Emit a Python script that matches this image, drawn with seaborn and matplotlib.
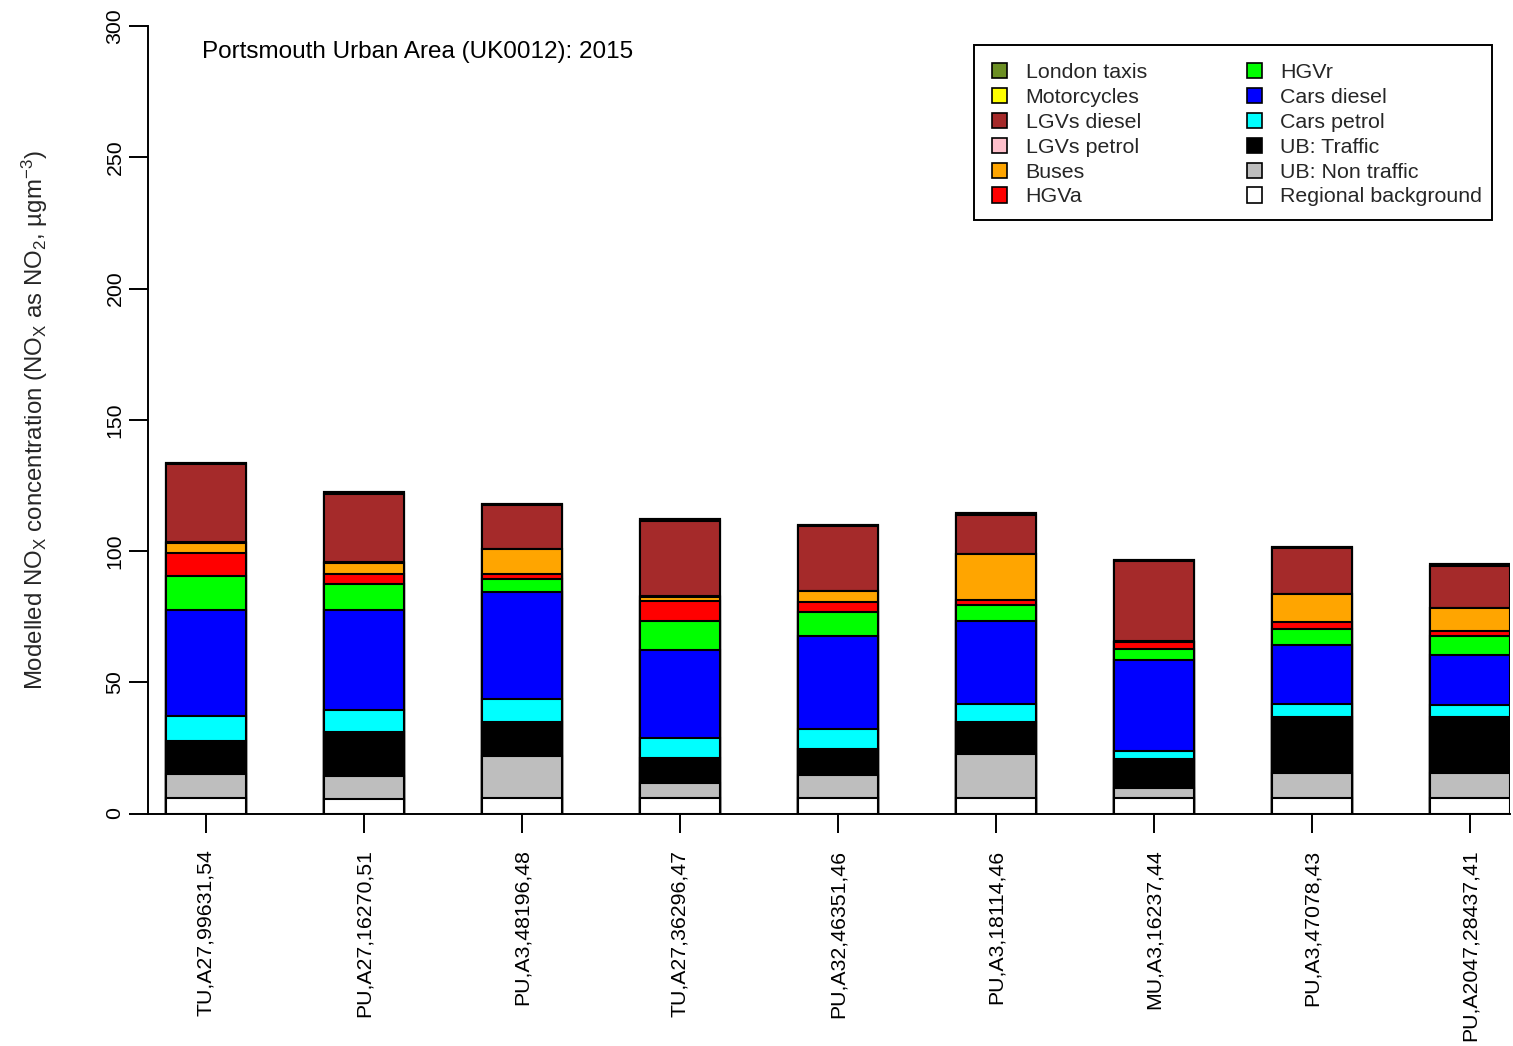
import numpy as np
import pandas as pd
import matplotlib
matplotlib.use("Agg")
import matplotlib.pyplot as plt
from matplotlib.patches import Patch, Rectangle
import seaborn as sns

# Receptor sites (x-axis categories)
sites = ["TU,A27,99631,54", "PU,A27,16270,51", "PU,A3,48196,48",
         "TU,A27,36296,47", "PU,A32,46351,46", "PU,A3,18114,46",
         "MU,A3,16237,44", "PU,A3,47078,43", "PU,A2047,28437,41"]

# Source apportionment of NOx (ugm-3), listed from the bottom of each stack upwards
regional_background = [5.9, 5.7, 6.0, 6.0, 5.9, 6.0, 6.0, 6.0, 6.0]
ub_non_traffic      = [9.2, 8.7, 15.9, 5.5, 8.8, 16.7, 3.6, 9.6, 9.6]
ub_traffic          = [12.7, 16.8, 13.1, 9.8, 9.9, 12.3, 11.2, 21.3, 21.3]
cars_petrol         = [9.5, 8.3, 8.8, 7.6, 7.7, 6.8, 3.1, 4.8, 4.3]
cars_diesel         = [40.2, 38.1, 40.4, 33.5, 35.2, 31.7, 34.4, 22.5, 19.3]
hgv_rigid           = [13.0, 9.7, 5.2, 11.1, 9.3, 6.1, 4.4, 6.1, 7.3]
hgv_artic           = [8.6, 4.1, 1.7, 7.6, 3.7, 1.9, 2.5, 2.6, 1.9]
buses               = [4.1, 4.2, 9.5, 1.4, 4.1, 17.2, 0.3, 10.6, 8.5]
lgvs_petrol         = [0.2, 0.2, 0.2, 0.2, 0.2, 0.2, 0.2, 0.2, 0.2]
lgvs_diesel         = [29.6, 26.1, 16.7, 28.9, 24.7, 15.0, 30.5, 17.3, 15.9]
motorcycles         = [0.4, 0.5, 0.5, 0.6, 0.5, 0.4, 0.4, 0.7, 0.6]
london_taxis        = [0.0, 0.0, 0.0, 0.0, 0.0, 0.0, 0.0, 0.0, 0.0]

sources = ["Regional background", "UB: Non traffic", "UB: Traffic", "Cars petrol",
           "Cars diesel", "HGVr", "HGVa", "Buses", "LGVs petrol", "LGVs diesel",
           "Motorcycles", "London taxis"]
values = [regional_background, ub_non_traffic, ub_traffic, cars_petrol, cars_diesel,
          hgv_rigid, hgv_artic, buses, lgvs_petrol, lgvs_diesel, motorcycles, london_taxis]
colors = ["#FFFFFF", "#BEBEBE", "#000000", "#00FFFF", "#0000FF", "#00FF00",
          "#FF0000", "#FFA500", "#FFC0CB", "#A52A2A", "#FFFF00", "#6B8E23"]

df = pd.DataFrame({name: vals for name, vals in zip(sources, values)})
cum = df[sources].cumsum(axis=1)
cum.insert(0, "site", sites)

sns.set_theme(style="white")
plt.rcParams["font.family"] = ["Liberation Sans", "DejaVu Sans"]
plt.rcParams["mathtext.fontset"] = "custom"
plt.rcParams["mathtext.rm"] = "Liberation Sans"
plt.rcParams["mathtext.it"] = "Liberation Sans:italic"
plt.rcParams["mathtext.default"] = "rm"

W, H = 1513, 1046
fig = plt.figure(figsize=(W / 100, H / 100), dpi=100)
ax = fig.add_axes([148 / W, 1 - 813.5 / H, (1510 - 148) / W, (813.5 - 26) / H])

bar_w = 80 / 158
# Draw cumulative totals from the top of the stack down, so each layer covers the one above's base
for i in range(len(sources) - 1, -1, -1):
    sns.barplot(data=cum, x="site", y=sources[i], color=colors[i],
                width=bar_w, edgecolor="black", linewidth=1.5, saturation=1,
                ax=ax, order=sites)

ax.set_xlim(-58 / 158, 8 + bar_w / 2)
ax.set_ylim(0, 300)
ax.set_yticks([0, 50, 100, 150, 200, 250, 300])
ax.set_xlabel("")
ax.set_ylabel(r"Modelled NO$_{\mathrm{X}}$ concentration (NO$_{\mathrm{X}}$ as NO$_2$, µgm$^{-3}$)",
              fontsize=17.3, labelpad=40)
for s in ["top", "right"]:
    ax.spines[s].set_visible(False)
for s in ["left", "bottom"]:
    ax.spines[s].set_color("black")
    ax.spines[s].set_linewidth(1.4)
ax.spines["bottom"].set_bounds(-58 / 158, 8 + bar_w / 2)
ax.spines["bottom"].set_zorder(5)
ax.tick_params(axis="both", direction="out", length=14, width=1.4, color="black",
               left=True, bottom=True, labelsize=15.3, colors="black")
ax.tick_params(axis="x", pad=12)
ax.tick_params(axis="y", pad=3)
plt.setp(ax.get_xticklabels(), rotation=90, ha="center", va="top")
plt.setp(ax.get_yticklabels(), rotation=90, va="center")
ax.grid(False)

fig.text(202 / W, 1 - 52 / H, "Portsmouth Urban Area (UK0012): 2015",
         fontsize=17.45, ha="left", va="center", color="black")

# Legend in the order of the stack from the top, two columns, inside a plain box
handles = [Patch(facecolor=colors[i], edgecolor="black", linewidth=1.2, label=sources[i])
           for i in range(len(sources) - 1, -1, -1)]
leg = fig.legend(handles=handles, ncol=2, loc="upper left",
                 bbox_to_anchor=(992 / W, 1 - 63 / H),
                 fontsize=15.4, frameon=False,
                 handlelength=0.72, handleheight=0.72,
                 handletextpad=0.85, labelspacing=0.27, columnspacing=4.66,
                 borderpad=0, borderaxespad=0)
fig.patches.append(Rectangle((974 / W, 1 - 220 / H), (1492 - 974) / W, (220 - 45) / H,
                             transform=fig.transFigure, facecolor="none",
                             edgecolor="black", linewidth=1.4, zorder=10))

fig.savefig("out.png", dpi=100, facecolor="white")
